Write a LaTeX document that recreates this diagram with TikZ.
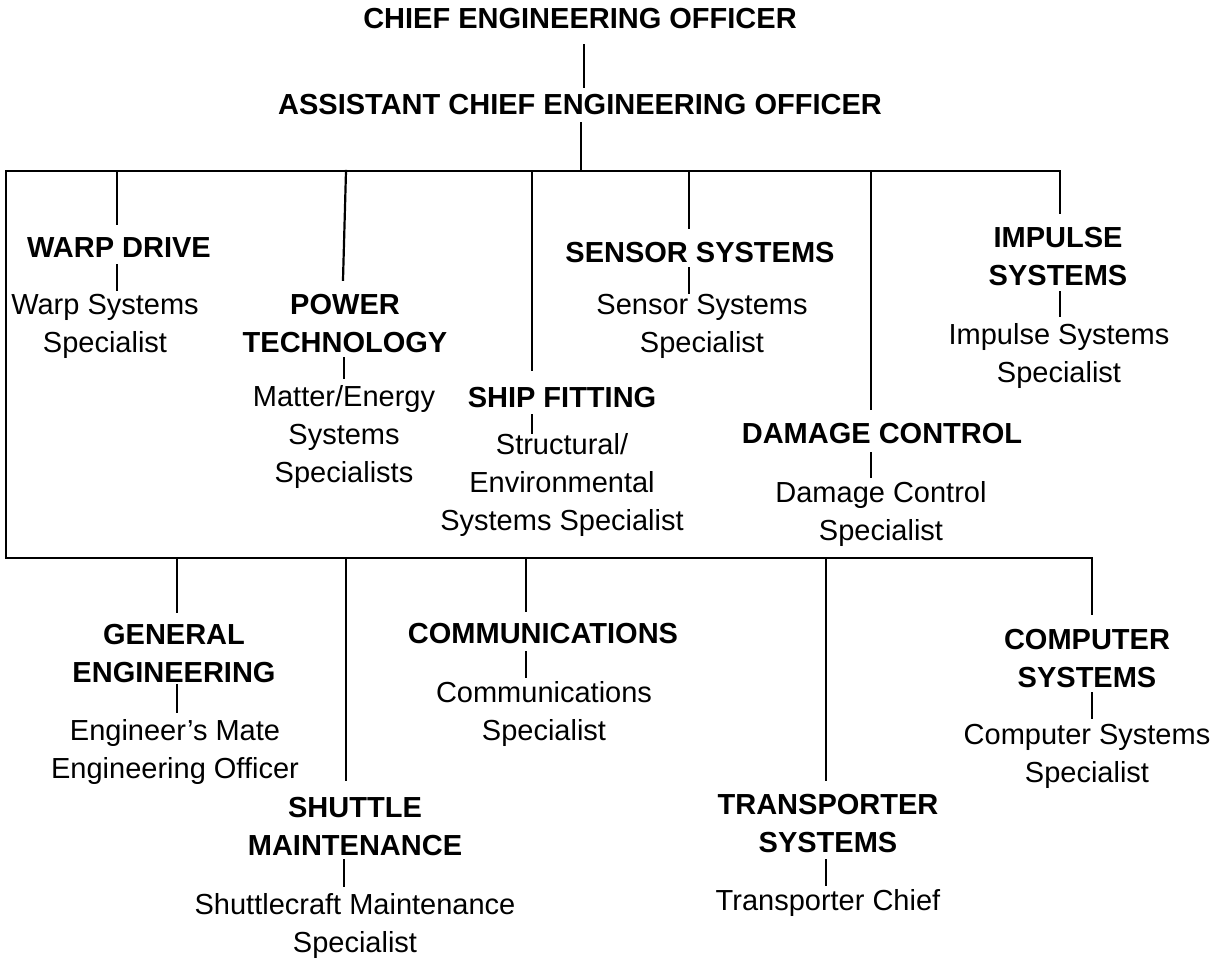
\documentclass[tikz,border=0pt]{standalone}
\usepackage{fontspec}
\setmainfont{Liberation Sans}
\begin{document}
\begin{tikzpicture}[x=1pt,y=-1pt,
  every node/.style={inner sep=0pt},
  hd/.style={font=\fontsize{29}{38}\selectfont\bfseries, align=center, outer ysep=8pt, anchor=base},
  sb/.style={font=\fontsize{29}{38}\selectfont, align=center, outer ysep=4pt, anchor=base},
  ln/.style={line width=2.2pt, line cap=rect}]
\useasboundingbox (0,0) rectangle (1228,960);
% top (y = baseline of the last line)
\node[hd, outer ysep=16pt] (ceo) at (580,29) {CHIEF ENGINEERING OFFICER};
\node[hd] (aceo) at (580,115) {ASSISTANT CHIEF ENGINEERING OFFICER};
% upper headings
\node[hd] (wd) at (119,257) {WARP DRIVE};
\node[hd, outer ysep=6pt] (pw) at (345,352) {POWER\\TECHNOLOGY};
\node[hd] (sf) at (562,407) {SHIP FITTING};
\node[hd, outer ysep=6pt] (ss) at (700,262) {SENSOR SYSTEMS};
\node[hd, outer ysep=10pt] (dc) at (882,443) {DAMAGE CONTROL};
\node[hd, outer ysep=7pt] (is) at (1058,285) {IMPULSE\\SYSTEMS};
% upper subs
\node[sb] (wds) at (105,352) {Warp Systems\\Specialist};
\node[sb, outer ysep=7pt] (pws) at (344,482) {Matter/Energy\\Systems\\Specialists};
\node[sb, outer ysep=0pt] (sfs) at (562,530) {Structural/\\Environmental\\Systems Specialist};
\node[sb, outer ysep=1pt] (sss) at (702,352) {Sensor Systems\\Specialist};
\node[sb] (dcs) at (881,540) {Damage Control\\Specialist};
\node[sb, outer ysep=7pt] (iss) at (1059,382) {Impulse Systems\\Specialist};
% lower headings
\node[hd, outer ysep=3pt] (ge) at (174,682) {GENERAL\\ENGINEERING};
\node[hd, outer ysep=5pt] (sm) at (355,855) {SHUTTLE\\MAINTENANCE};
\node[hd, outer ysep=9pt] (cm) at (543,643) {COMMUNICATIONS};
\node[hd] (tr) at (828,852) {TRANSPORTER\\SYSTEMS};
\node[hd, outer ysep=6pt] (cp) at (1087,687) {COMPUTER\\SYSTEMS};
% lower subs
\node[sb, outer ysep=7pt] (ges) at (175,778) {Engineer’s Mate\\Engineering Officer};
\node[sb, outer ysep=7pt] (sms) at (355,952) {Shuttlecraft Maintenance\\Specialist};
\node[sb] (cms) at (544,740) {Communications\\Specialist};
\node[sb] (trs) at (828,910) {Transporter Chief};
\node[sb, outer ysep=6pt] (cps) at (1087,782) {Computer Systems\\Specialist};
% bus coordinates
\coordinate (k0) at (584,0);
\coordinate (k1) at (581,171);
\coordinate (t1) at (117,171);
\coordinate (t2) at (346,171);
\coordinate (t3) at (532,171);
\coordinate (t4) at (689,171);
\coordinate (t5) at (871,171);
\coordinate (t6) at (1060,171);
\coordinate (tl) at (6,171);
\coordinate (ul) at (6,558);
\coordinate (u1) at (177,558);
\coordinate (u2) at (346,558);
\coordinate (u3) at (526,558);
\coordinate (u4) at (826,558);
\coordinate (u5) at (1092,558);
\coordinate (p2) at (344,0);
% connectors
\draw[ln] (ceo.south -| k0) -- (aceo.north -| k0);
\draw[ln] (aceo.south -| k1) -- (k1);
\draw[ln] (t6) -- (tl) -- (ul) -- (u5);
\draw[ln] (t1) -- ([yshift=5pt]t1 |- wd.north);
\draw[ln] (t2) -- ([xshift=-2pt,yshift=8pt]pw.north);
\draw[ln] (t3) -- ([yshift=9pt]t3 |- sf.north);
\draw[ln] (t4) -- ([yshift=8pt]t4 |- ss.north);
\draw[ln] (t5) -- ([yshift=4pt]t5 |- dc.north);
\draw[ln] (t6) -- ([yshift=7pt]t6 |- is.north);
\draw[ln] (u1) -- ([yshift=9pt]u1 |- ge.north);
\draw[ln] (u2) -- ([yshift=12pt]u2 |- sm.north);
\draw[ln] (u3) -- ([yshift=3pt]u3 |- cm.north);
\draw[ln] (u4) -- ([yshift=6pt]u4 |- tr.north);
\draw[ln] (u5) -- ([yshift=9pt]u5 |- cp.north);
% second level
\draw[ln] (wd.south -| t1) -- (wds.north -| t1);
\draw[ln] (pw.south -| p2) -- (pws.north -| p2);
\draw[ln] (sf.south -| t3) -- (sfs.north -| t3);
\draw[ln] (ss.south -| t4) -- (sss.north -| t4);
\draw[ln] (dc.south -| t5) -- (dcs.north -| t5);
\draw[ln] (is.south -| t6) -- (iss.north -| t6);
\draw[ln] (ge.south -| u1) -- (ges.north -| u1);
\draw[ln] (sm.south -| p2) -- (sms.north -| p2);
\draw[ln] (cm.south -| u3) -- (cms.north -| u3);
\draw[ln] (tr.south -| u4) -- (trs.north -| u4);
\draw[ln] (cp.south -| u5) -- (cps.north -| u5);
\end{tikzpicture}
\end{document}
